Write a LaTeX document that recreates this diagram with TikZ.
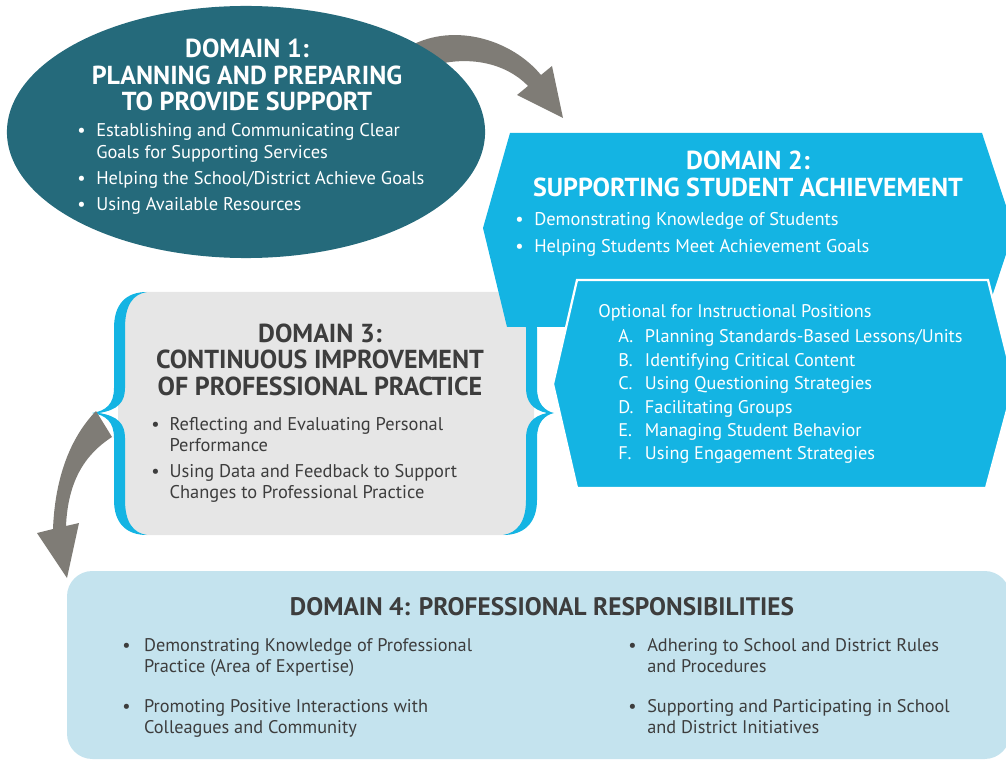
\documentclass[tikz,border=0pt]{standalone}
\usepackage{fontspec}
\setmainfont{PT Sans}
\usetikzlibrary{shapes.geometric}

\definecolor{domteal}{HTML}{256A7B}
\definecolor{domcyan}{HTML}{14B4E3}
\definecolor{domgray}{HTML}{E6E6E6}
\definecolor{domlight}{HTML}{C4E3EE}
\definecolor{arrowgray}{HTML}{7F7C76}
\definecolor{textdark}{HTML}{3D3D3D}

% bullet column and title block
\newcommand{\bul}[1]{\makebox[#1][l]{\textbullet}}
\newcommand{\titleblock}[1]{\begin{tabular}[t]{@{}c@{}}#1\end{tabular}}

\tikzset{
  domtitle/.style={inner sep=0pt, anchor=base, font=\bfseries\fontsize{18.5}{18.8}\selectfont},
  domlist/.style={inner sep=0pt, anchor=base west, font=\fontsize{13.1}{15}\selectfont},
}

\begin{document}
\begin{tikzpicture}[x=0.025cm, y=-0.025cm]
    \useasboundingbox (0,0) rectangle (1006,761);
    \clip (0,0) rectangle (1006,761);

    % Arrow 1 -> 2
    \fill[arrowgray] (410,46) .. controls (455,22) and (512,40) .. (541,75) -- (552,66) -- (563,118) -- (517,95) -- (528,86) .. controls (505,62) and (465,54) .. (425,68) -- cycle;

    % Domain 1 ellipse
    \node[ellipse, fill=domteal, minimum width=11.95cm, minimum height=6.3cm, inner sep=0pt] (d1) at (246,132) {};
    \node[domtitle, white, font=\bfseries\fontsize{18.5}{17.7}\selectfont] (d1title) at (247,58) {\titleblock{DOMAIN 1:\\ PLANNING AND PREPARING\\ TO PROVIDE SUPPORT}};
    \node[domlist, white] (d1list) at (77,137) {\begin{tabular}[t]{@{}l@{}l@{}}
        \bul{13.5pt} & Establishing and Communicating Clear\\
                     & Goals for Supporting Services\\[3.5pt]
        \bul{13.5pt} & Helping the School/District Achieve Goals\\[3.5pt]
        \bul{13.5pt} & Using Available Resources
      \end{tabular}};

    % Domain 3 box with braces
    \fill[domgray, rounded corners=20pt] (118,292) rectangle (534,535);
    \fill[domcyan] (147,292) .. controls (126,292) and (114,304) .. (114,328) -- (114,388) .. controls (114,404) and (106,411) .. (92,413) .. controls (106,415) and (114,422) .. (114,438) -- (114,500) .. controls (114,523) and (126,535) .. (147,535) .. controls (133,533) and (125,522) .. (125,500) -- (125,438) .. controls (125,424) and (118,416) .. (99,413) .. controls (118,410) and (125,402) .. (125,388) -- (125,328) .. controls (125,305) and (133,294) .. (147,292) -- cycle;
    \fill[domcyan] (503,292) .. controls (524,292) and (537,304) .. (537,328) -- (537,388) .. controls (537,404) and (545,411) .. (554,413) .. controls (545,415) and (537,422) .. (537,438) -- (537,500) .. controls (537,523) and (524,535) .. (503,535) .. controls (517,533) and (526,522) .. (526,500) -- (526,438) .. controls (526,424) and (533,416) .. (547,413) .. controls (533,410) and (526,402) .. (526,388) -- (526,328) .. controls (526,305) and (517,294) .. (503,292) -- cycle;
    \node[domtitle, textdark] (d3title) at (320,342) {\titleblock{DOMAIN 3:\\ CONTINUOUS IMPROVEMENT\\ OF PROFESSIONAL PRACTICE}};
    \node[domlist, textdark] (d3list) at (151,430) {\begin{tabular}[t]{@{}l@{}l@{}}
        \bul{13pt} & Reflecting and Evaluating Personal\\
                   & Performance\\[4pt]
        \bul{13pt} & Using Data and Feedback to Support\\
                   & Changes to Professional Practice
      \end{tabular}};

    % Arrow 3 -> 4
    \fill[arrowgray] (96,411) .. controls (70,438) and (55,478) .. (53,529) -- (37,533) -- (67,578) -- (79,523) -- (66,526) .. controls (68,482) and (84,455) .. (112,437) -- cycle;

    % Domain 2
    \fill[domcyan] (510,133) -- (982,133) -- (1014,230) -- (982,327) -- (507,327) -- (483,228) -- cycle;
    \node[domtitle, white, font=\bfseries\fontsize{18.5}{19.1}\selectfont] (d2title) at (748,170) {\titleblock{DOMAIN 2:\\ SUPPORTING STUDENT ACHIEVEMENT}};
    \node[domlist, white] (d2list) at (515,226) {\begin{tabular}[t]{@{}l@{}l@{}}
        \bul{13.5pt} & Demonstrating Knowledge of Students\\[3.5pt]
        \bul{13.5pt} & Helping Students Meet Achievement Goals
      \end{tabular}};

    % Optional part of domain 2
    \filldraw[fill=domcyan, draw=white, line width=1.6pt] (577,280) -- (988,280) -- (1014,384) -- (986,488) -- (577,488) -- (553,384) -- cycle;
    \node[domlist, white, font=\fontsize{13}{16.6}\selectfont] (opthead) at (598,318) {Optional for Instructional Positions};
    \node[domlist, white, font=\fontsize{13}{16.6}\selectfont] (optlist) at (618,343) {\begin{tabular}[t]{@{}l@{}l@{}}
        \makebox[19pt][l]{A.} & Planning Standards-Based Lessons/Units\\
        \makebox[19pt][l]{B.} & Identifying Critical Content\\
        \makebox[19pt][l]{C.} & Using Questioning Strategies\\
        \makebox[19pt][l]{D.} & Facilitating Groups\\
        \makebox[19pt][l]{E.} & Managing Student Behavior\\
        \makebox[19pt][l]{F.} & Using Engagement Strategies
      \end{tabular}};

    % Domain 4
    \fill[domlight, rounded corners=18pt] (67,571) rectangle (1010,759);
    \node[domtitle, textdark, font=\bfseries\fontsize{18}{18}\selectfont] (d4title) at (542,615) {DOMAIN 4: PROFESSIONAL RESPONSIBILITIES};
    \node[domlist, textdark, font=\fontsize{13}{15.2}\selectfont] (d4left) at (122,651) {\begin{tabular}[t]{@{}l@{}l@{}}
        \bul{15.5pt} & Demonstrating Knowledge of Professional\\
                     & Practice (Area of Expertise)\\[13pt]
        \bul{15.5pt} & Promoting Positive Interactions with\\
                     & Colleagues and Community
      \end{tabular}};
    \node[domlist, textdark, font=\fontsize{13}{15.2}\selectfont] (d4right) at (628,651) {\begin{tabular}[t]{@{}l@{}l@{}}
        \bul{13.5pt} & Adhering to School and District Rules\\
                     & and Procedures\\[13pt]
        \bul{13.5pt} & Supporting and Participating in School\\
                     & and District Initiatives
      \end{tabular}};

\end{tikzpicture}
\end{document}
